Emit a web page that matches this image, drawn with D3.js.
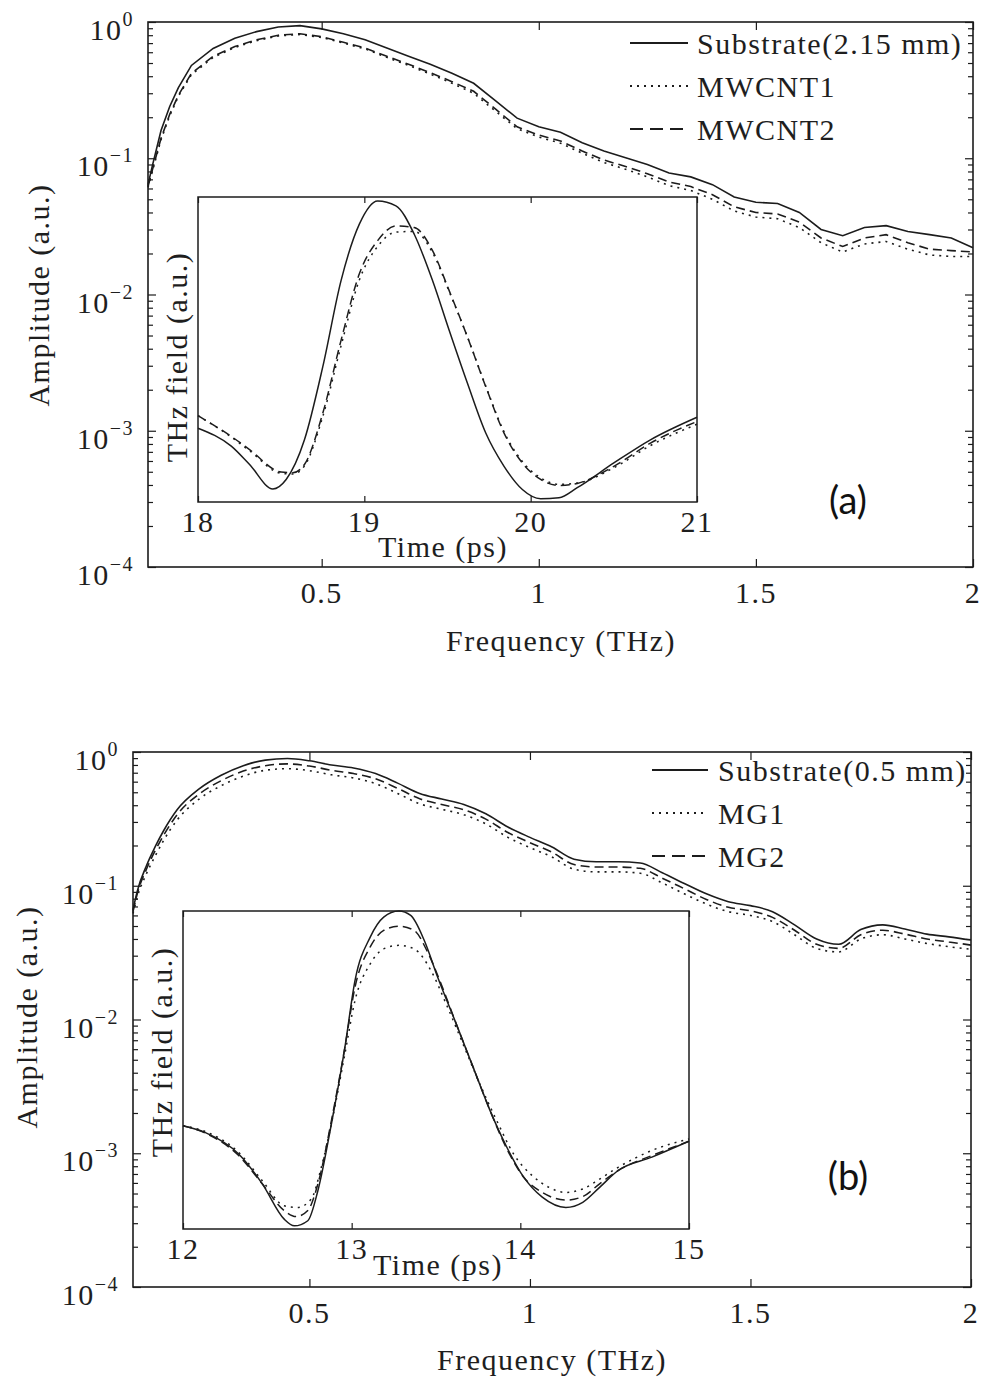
<!DOCTYPE html>
<html>
<head>
<meta charset="utf-8">
<script src="https://cdn.jsdelivr.net/npm/d3@7"></script>
<style>
  body { margin: 0; background: #fff; }
  svg { display: block; }
  .serif { font-family: "Liberation Serif", "Times New Roman", serif; fill: #1e1e1e; letter-spacing: 1.5px; }
  .tag { font-family: Lato, "Open Sans", sans-serif; fill: #111; }
</style>
</head>
<body>
<svg id="chart" width="984" height="1384"></svg>
<script>
// ---------- spectra (THz) ----------
const frequency = [0.10, 0.11, 0.13, 0.15, 0.17, 0.20, 0.25, 0.30, 0.35, 0.40, 0.45, 0.50, 0.55, 0.60,
  0.65, 0.70, 0.75, 0.80, 0.85, 0.90, 0.95, 1.00, 1.05, 1.10, 1.15, 1.20, 1.25, 1.30, 1.35, 1.40,
  1.45, 1.50, 1.55, 1.60, 1.65, 1.70, 1.75, 1.80, 1.85, 1.90, 1.95, 2.00];

// panel (a): 2.15 mm substrate with MWCNT films
const substrateA = [0.064, 0.088, 0.16, 0.24, 0.33, 0.48, 0.64, 0.76, 0.85, 0.92, 0.94, 0.89, 0.82, 0.74,
  0.645, 0.56, 0.49, 0.42, 0.355, 0.265, 0.197, 0.17, 0.155, 0.13, 0.113, 0.101, 0.09, 0.078, 0.073, 0.064,
  0.052, 0.0475, 0.0465, 0.040, 0.030, 0.027, 0.031, 0.032, 0.029, 0.0275, 0.026, 0.022];
const mwcnt1A = [0.061, 0.080, 0.137, 0.205, 0.285, 0.41, 0.55, 0.65, 0.73, 0.79, 0.81, 0.77, 0.70, 0.635,
  0.55, 0.48, 0.415, 0.355, 0.30, 0.222, 0.165, 0.143, 0.129, 0.109, 0.093, 0.083, 0.073, 0.063, 0.058, 0.050,
  0.041, 0.037, 0.036, 0.031, 0.024, 0.0205, 0.0235, 0.0245, 0.0215, 0.0195, 0.019, 0.019];
const mwcnt2A = [0.062, 0.082, 0.14, 0.21, 0.29, 0.42, 0.56, 0.66, 0.74, 0.80, 0.82, 0.78, 0.71, 0.645,
  0.56, 0.49, 0.425, 0.365, 0.31, 0.23, 0.17, 0.148, 0.134, 0.113, 0.097, 0.087, 0.077, 0.067, 0.062, 0.054,
  0.044, 0.040, 0.039, 0.034, 0.026, 0.0225, 0.026, 0.0275, 0.024, 0.0215, 0.021, 0.0205];

// panel (b): 0.5 mm substrate with MG films
const substrateB = [0.066, 0.092, 0.14, 0.195, 0.26, 0.37, 0.53, 0.67, 0.79, 0.87, 0.895, 0.86, 0.80, 0.76,
  0.69, 0.585, 0.49, 0.445, 0.405, 0.345, 0.275, 0.23, 0.195, 0.158, 0.151, 0.151, 0.148, 0.125, 0.104, 0.087,
  0.076, 0.071, 0.064, 0.051, 0.040, 0.0365, 0.047, 0.051, 0.0475, 0.0435, 0.0415, 0.0393];
const mg1B = [0.062, 0.083, 0.122, 0.166, 0.22, 0.31, 0.445, 0.56, 0.66, 0.73, 0.75, 0.725, 0.675, 0.64,
  0.58, 0.49, 0.41, 0.373, 0.34, 0.29, 0.23, 0.193, 0.164, 0.133, 0.127, 0.127, 0.124, 0.105, 0.087, 0.073,
  0.064, 0.060, 0.054, 0.043, 0.034, 0.032, 0.040, 0.043, 0.040, 0.037, 0.035, 0.0335];
const mg2B = [0.064, 0.088, 0.132, 0.182, 0.24, 0.34, 0.485, 0.61, 0.72, 0.79, 0.815, 0.785, 0.73, 0.69,
  0.63, 0.535, 0.447, 0.405, 0.37, 0.315, 0.25, 0.21, 0.178, 0.144, 0.138, 0.138, 0.135, 0.114, 0.095, 0.079,
  0.069, 0.065, 0.058, 0.0465, 0.0365, 0.034, 0.043, 0.0465, 0.0435, 0.040, 0.038, 0.036];

const freqTicks = [0.5, 1, 1.5, 2];
const freqTickLabels = ["0.5", "1", "1.5", "2"];
const ampDecades = [0, -1, -2, -3, -4];

// ---------- time-domain pulses (ps, normalised field) ----------
const timeSubA = [18.00, 18.20, 18.31, 18.45, 18.53, 18.64, 18.75, 18.86, 18.97, 19.08, 19.19, 19.30,
  19.41, 19.51, 19.62, 19.73, 19.84, 19.95, 20.06, 20.17, 20.28, 20.50, 20.72, 21.00];
const fieldSubA = [0.242, 0.183, 0.123, 0.043, 0.074, 0.204, 0.443, 0.726, 0.911, 0.987, 0.971, 0.878,
  0.726, 0.563, 0.389, 0.226, 0.117, 0.041, 0.011, 0.014, 0.047, 0.128, 0.204, 0.278];
const timeCntA = [18.00, 18.20, 18.31, 18.50, 18.57, 18.64, 18.75, 18.86, 18.97, 19.08, 19.19, 19.30,
  19.41, 19.51, 19.62, 19.73, 19.84, 19.95, 20.06, 20.17, 20.28, 20.50, 20.72, 21.00];
const fieldCnt1A = [0.283, 0.213, 0.168, 0.094, 0.092, 0.118, 0.280, 0.512, 0.728, 0.838, 0.885, 0.887,
  0.818, 0.690, 0.541, 0.380, 0.230, 0.133, 0.079, 0.058, 0.062, 0.112, 0.185, 0.255];
const fieldCnt2A = [0.283, 0.215, 0.172, 0.098, 0.096, 0.123, 0.291, 0.530, 0.748, 0.857, 0.905, 0.900,
  0.824, 0.693, 0.541, 0.378, 0.226, 0.128, 0.074, 0.054, 0.061, 0.117, 0.193, 0.264];

const timeSubB = [12.00, 12.13, 12.33, 12.47, 12.60, 12.66, 12.74, 12.80, 12.88, 12.96, 13.02, 13.11, 13.19,
  13.28, 13.35, 13.43, 13.51, 13.62, 13.72, 13.82, 13.92, 14.02, 14.13, 14.27, 14.37, 14.47, 14.58, 14.78, 15.00];
const fieldSubB = [0.325, 0.304, 0.236, 0.142, 0.031, 0.010, 0.026, 0.121, 0.331, 0.572, 0.782, 0.918, 0.981,
  1.0, 0.986, 0.908, 0.792, 0.645, 0.509, 0.373, 0.257, 0.163, 0.100, 0.068, 0.084, 0.131, 0.184, 0.226, 0.276];
const timeMg1B = [12.00, 12.13, 12.33, 12.47, 12.60, 12.68, 12.76, 12.82, 12.88, 12.96, 13.02, 13.11, 13.19,
  13.28, 13.37, 13.47, 13.56, 13.66, 13.76, 13.86, 13.96, 14.07, 14.17, 14.27, 14.37, 14.47, 14.58, 14.78, 15.00];
const fieldMg1B = [0.325, 0.307, 0.241, 0.152, 0.073, 0.068, 0.094, 0.194, 0.331, 0.551, 0.719, 0.834, 0.881,
  0.892, 0.881, 0.813, 0.708, 0.582, 0.456, 0.341, 0.236, 0.168, 0.131, 0.115, 0.126, 0.157, 0.194, 0.247, 0.283];
const timeMg2B = [12.00, 12.13, 12.33, 12.47, 12.60, 12.67, 12.74, 12.80, 12.88, 12.96, 13.02, 13.11, 13.19,
  13.28, 13.37, 13.45, 13.53, 13.62, 13.72, 13.82, 13.92, 14.02, 14.13, 14.27, 14.37, 14.47, 14.58, 14.78, 15.00];
const fieldMg2B = [0.325, 0.302, 0.231, 0.142, 0.058, 0.039, 0.058, 0.142, 0.341, 0.572, 0.761, 0.887, 0.939,
  0.952, 0.939, 0.871, 0.771, 0.645, 0.509, 0.373, 0.252, 0.163, 0.115, 0.091, 0.102, 0.142, 0.184, 0.231, 0.276];

const timeTicksA = [18, 19, 20, 21];
const timeTicksB = [12, 13, 14, 15];

// ---------- line styles ----------
const DASH = { solid: null, dotted: "2,5", dashed: "9,5" };
const LEGEND_DASH = { solid: null, dotted: "2,5", dashed: "13,7" };
const INK = "#1c1c1c";

const zipXY = (xs, ys) => xs.map((x, i) => ({ x, y: ys[i] }));

const panels = [
  {
    box: { l: 148, t: 22, r: 973, b: 567 },
    series: [
      { name: "Substrate(2.15 mm)", values: substrateA, style: "solid" },
      { name: "MWCNT1", values: mwcnt1A, style: "dotted" },
      { name: "MWCNT2", values: mwcnt2A, style: "dashed" }
    ],
    curve: d3.curveLinear,
    legend: { x0: 630, x1: 688, tx: 697, rows: [43, 86, 129] },
    yLabel: { x: 49, y: 295 },
    xLabel: { x: 561, y: 651 },
    tag: { text: "(a)", x: 848, y: 514 },
    inset: {
      box: { l: 198, t: 197, r: 697, b: 502 },
      domain: [18, 21], ticks: timeTicksA,
      series: [
        { t: timeSubA, v: fieldSubA, style: "solid" },
        { t: timeCntA, v: fieldCnt1A, style: "dotted" },
        { t: timeCntA, v: fieldCnt2A, style: "dashed" }
      ],
      timeLabel: { x: 443, y: 557 },
      fieldLabel: { x: 187, y: 357 }
    }
  },
  {
    box: { l: 133, t: 752, r: 971, b: 1287 },
    series: [
      { name: "Substrate(0.5 mm)", values: substrateB, style: "solid" },
      { name: "MG1", values: mg1B, style: "dotted" },
      { name: "MG2", values: mg2B, style: "dashed" }
    ],
    curve: d3.curveMonotoneX,
    legend: { x0: 652, x1: 708, tx: 718, rows: [770, 813, 856] },
    yLabel: { x: 37, y: 1017 },
    xLabel: { x: 552, y: 1370 },
    tag: { text: "(b)", x: 848, y: 1190 },
    inset: {
      box: { l: 183, t: 911, r: 689, b: 1229 },
      domain: [12, 15], ticks: timeTicksB,
      series: [
        { t: timeSubB, v: fieldSubB, style: "solid" },
        { t: timeMg1B, v: fieldMg1B, style: "dotted" },
        { t: timeMg2B, v: fieldMg2B, style: "dashed" }
      ],
      timeLabel: { x: 438, y: 1275 },
      fieldLabel: { x: 172, y: 1052 }
    }
  }
];

const svg = d3.select("#chart");

function styleAxis(g) {
  g.select(".domain").remove();
  g.selectAll(".tick line").attr("stroke", INK).attr("stroke-width", 1.2);
  g.selectAll(".tick text").remove();
}

panels.forEach(p => {
  const { l, t, r, b } = p.box;
  const x = d3.scaleLinear().domain([0.1, 2]).range([l, r]);
  const y = d3.scaleLog().domain([1e-4, 1]).range([b, t]);
  const g = svg.append("g");

  // log ticks: decades long, 2..9 short, mirrored on the right
  const majors = ampDecades.map(e => Math.pow(10, e));
  const minors = y.ticks().filter(v => !majors.some(m => Math.abs(Math.log10(v) - Math.log10(m)) < 1e-9));
  [[d3.axisLeft, l, -1], [d3.axisRight, r, 1]].forEach(([ax, xpos, s]) => {
    g.append("g").attr("transform", `translate(${xpos},0)`)
      .call(ax(y).tickValues(majors).tickSizeInner(-8).tickSizeOuter(0)).call(styleAxis);
    g.append("g").attr("transform", `translate(${xpos},0)`)
      .call(ax(y).tickValues(minors).tickSizeInner(-5).tickSizeOuter(0)).call(styleAxis);
  });
  g.append("g").attr("transform", `translate(0,${b})`)
    .call(d3.axisBottom(x).tickValues(freqTicks).tickSizeInner(-8).tickSizeOuter(0)).call(styleAxis);
  g.append("g").attr("transform", `translate(0,${t})`)
    .call(d3.axisTop(x).tickValues(freqTicks).tickSizeInner(-8).tickSizeOuter(0)).call(styleAxis);

  // spectra
  const line = d3.line().x(d => x(d.x)).y(d => y(d.y)).curve(p.curve);
  p.series.forEach(s => {
    g.append("path").datum(zipXY(frequency, s.values))
      .attr("d", line).attr("fill", "none").attr("stroke", INK)
      .attr("stroke-width", 1.6).attr("stroke-dasharray", DASH[s.style]);
  });

  // frame
  g.append("rect").attr("x", l).attr("y", t).attr("width", r - l).attr("height", b - t)
    .attr("fill", "none").attr("stroke", INK).attr("stroke-width", 1.6);

  // tick labels
  g.selectAll(null).data(freqTicks).join("text").attr("class", "serif")
    .attr("x", d => x(d)).attr("y", b + 36).attr("text-anchor", "middle")
    .attr("font-size", 30).text((d, i) => freqTickLabels[i]);
  ampDecades.forEach(e => {
    const tx = g.append("text").attr("class", "serif").attr("text-anchor", "end")
      .attr("x", l - 14).attr("y", y(Math.pow(10, e)) + 18).attr("font-size", 30);
    tx.append("tspan").text("10");
    tx.append("tspan").attr("dy", -14).attr("font-size", 20).text(e < 0 ? "\u2212" + (-e) : String(e));
  });

  // axis titles
  g.append("text").attr("class", "serif").attr("font-size", 30).attr("text-anchor", "middle")
    .attr("x", p.xLabel.x).attr("y", p.xLabel.y).text("Frequency (THz)");
  g.append("text").attr("class", "serif").attr("font-size", 30).attr("text-anchor", "middle")
    .attr("transform", `translate(${p.yLabel.x},${p.yLabel.y}) rotate(-90)`).text("Amplitude (a.u.)");

  // legend
  p.series.forEach((s, i) => {
    const ry = p.legend.rows[i];
    g.append("line").attr("x1", p.legend.x0).attr("x2", p.legend.x1).attr("y1", ry).attr("y2", ry)
      .attr("stroke", INK).attr("stroke-width", 1.8).attr("stroke-dasharray", LEGEND_DASH[s.style]);
    g.append("text").attr("class", "serif").attr("font-size", 30)
      .attr("x", p.legend.tx).attr("y", ry + 11).text(s.name);
  });

  // panel tag
  g.append("text").attr("class", "tag").attr("font-size", 38).attr("text-anchor", "middle")
    .attr("x", p.tag.x).attr("y", p.tag.y).text(p.tag.text);

  // inset: time-domain pulses
  const ins = p.inset, ib = ins.box;
  const xi = d3.scaleLinear().domain(ins.domain).range([ib.l, ib.r]);
  const yi = d3.scaleLinear().domain([0, 1]).range([ib.b, ib.t]);
  const gi = g.append("g");
  gi.append("rect").attr("x", ib.l).attr("y", ib.t).attr("width", ib.r - ib.l).attr("height", ib.b - ib.t)
    .attr("fill", "#fff");
  gi.append("g").attr("transform", `translate(0,${ib.b})`)
    .call(d3.axisBottom(xi).tickValues(ins.ticks).tickSizeInner(-6).tickSizeOuter(0)).call(styleAxis);
  gi.append("g").attr("transform", `translate(0,${ib.t})`)
    .call(d3.axisTop(xi).tickValues(ins.ticks).tickSizeInner(-6).tickSizeOuter(0)).call(styleAxis);
  const iline = d3.line().x(d => xi(d.x)).y(d => yi(d.y)).curve(d3.curveMonotoneX);
  ins.series.forEach(s => {
    gi.append("path").datum(zipXY(s.t, s.v)).attr("d", iline)
      .attr("fill", "none").attr("stroke", INK).attr("stroke-width", 1.5)
      .attr("stroke-dasharray", DASH[s.style]);
  });
  gi.append("rect").attr("x", ib.l).attr("y", ib.t).attr("width", ib.r - ib.l).attr("height", ib.b - ib.t)
    .attr("fill", "none").attr("stroke", INK).attr("stroke-width", 1.5);
  gi.selectAll(null).data(ins.ticks).join("text").attr("class", "serif")
    .attr("x", d => xi(d)).attr("y", ib.b + 30).attr("text-anchor", "middle")
    .attr("font-size", 30).text(d => d);
  gi.append("text").attr("class", "serif").attr("font-size", 30).attr("text-anchor", "middle")
    .attr("x", ins.timeLabel.x).attr("y", ins.timeLabel.y).text("Time (ps)");
  gi.append("text").attr("class", "serif").attr("font-size", 30).attr("text-anchor", "middle")
    .attr("transform", `translate(${ins.fieldLabel.x},${ins.fieldLabel.y}) rotate(-90)`)
    .text("THz field (a.u.)");
});
</script>
</body>
</html>
